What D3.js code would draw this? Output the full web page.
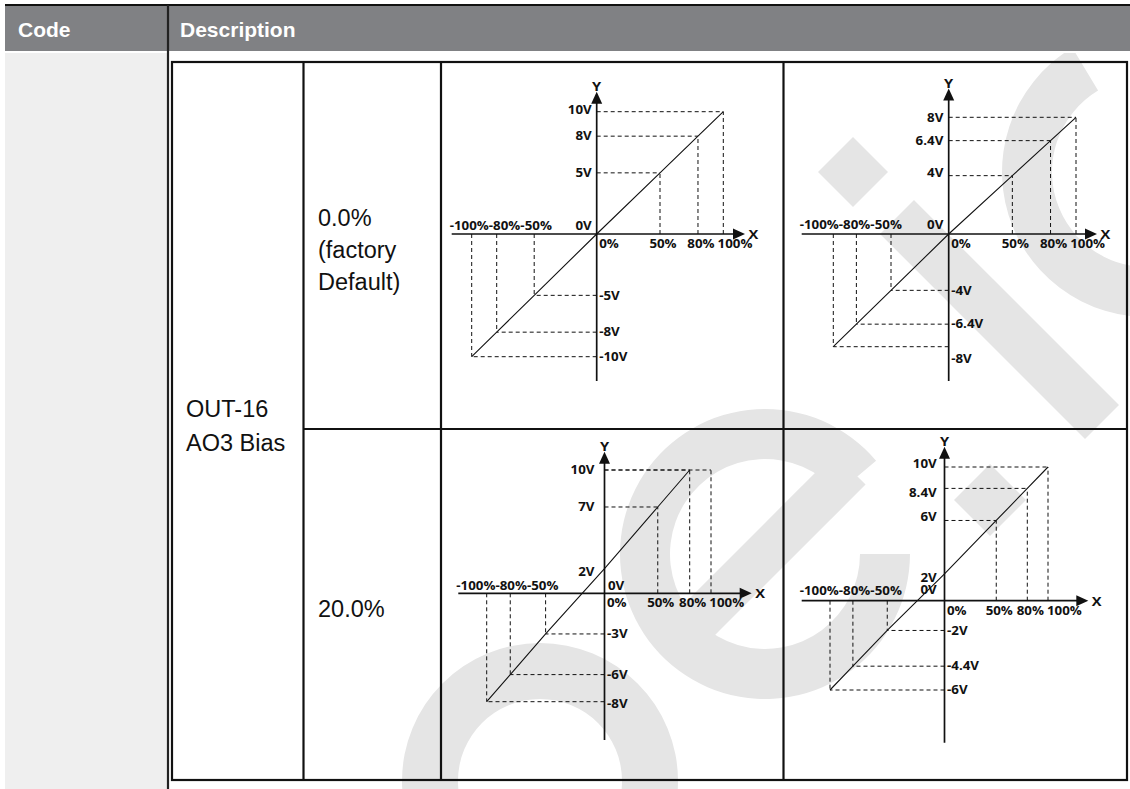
<!DOCTYPE html>
<html>
<head>
<meta charset="utf-8">
<script src="https://cdn.jsdelivr.net/npm/d3@7"></script>
<style>
  html, body { margin: 0; padding: 0; background: #ffffff; }
  svg { display: block; }
</style>
</head>
<body>
<svg id="page" width="1130" height="789"></svg>
<script>
// ---- Table text ----
const headerLabels = ["Code", "Description"];
const paramName = ["OUT-16", "AO3 Bias"];
const biasSettings = [["0.0%", "(factory", "Default)"], ["20.0%"]];

// ---- Input level marked on every X axis (% of full scale) ----
const inputPct = [-100, -80, -50, 0, 50, 80, 100];
const inputPctLabels = ["-100%", "-80%", "-50%", "0%", "50%", "80%", "100%"];

// ---- Output voltage at each input level, one array per graph ----
const outBias0Gain100 = [-10, -8, -5, 0, 5, 8, 10];
const outBias0Gain80 = [-8, -6.4, -4, 0, 4, 6.4, 8];
const outBias20Gain100 = [-8, -6, -3, 2, 7, 10, 10];
const outBias20Gain80 = [-6, -4.4, -2, 2, 6, 8.4, 10];
const outputCeiling = 10;

// ---- Page geometry ----
const W = 1130, H = 789;
const svg = d3.select("#page");

const headerGray = "#808184";
const codeGray = "#efefef";
const markGray = "#e5e5e5";
const ink = "#111111";

// Header band
svg.append("rect").attr("x", 5).attr("y", 5).attr("width", W - 5).attr("height", 46)
  .attr("fill", headerGray);
svg.append("line").attr("x1", 5).attr("x2", W).attr("y1", 5).attr("y2", 5)
  .attr("stroke", ink).attr("stroke-width", 2.2);
// Code column background
svg.append("rect").attr("x", 5).attr("y", 53).attr("width", 162).attr("height", H - 53)
  .attr("fill", codeGray);

// ---- Faint background lettering behind the description column ----
svg.append("clipPath").attr("id", "descClip")
  .append("rect").attr("x", 170).attr("y", 53).attr("width", W - 170).attr("height", H - 53);
const bgMarks = svg.append("g").attr("fill", markGray).attr("clip-path", "url(#descClip)");
const deg = Math.PI / 180;
const ring = (cx, cy, r0, r1, a0, a1) => bgMarks.append("path")
  .attr("transform", `translate(${cx},${cy})`)
  .attr("d", d3.arc().innerRadius(r0).outerRadius(r1).startAngle(a0 * deg).endAngle(a1 * deg)());
const band = (x1, y1, x2, y2, w) => bgMarks.append("line")
  .attr("x1", x1).attr("y1", y1).attr("x2", x2).attr("y2", y2)
  .attr("stroke", markGray).attr("stroke-width", w);
const diamond = (cx, cy, r) => bgMarks.append("path")
  .attr("d", `M${cx - r},${cy} L${cx},${cy - r} L${cx + r},${cy} L${cx},${cy + r} Z`);

ring(540, 781, 82, 138, 0, 360);            // round letter at the bottom
ring(765, 554, 95, 145, 90, 410);           // "e" bowl with its opening
band(680, 639, 850, 469, 44);               // "e" bar
diamond(853, 172, 35);                      // dot of the "i"
band(897, 217, 1102, 422, 48);              // "i" stem
ring(1147, 172, 95, 145, 85, 329);          // open letter at the top right
diamond(990, 500, 36);

// Divider between Code and Description
svg.append("line").attr("x1", 168).attr("x2", 168).attr("y1", 5).attr("y2", H)
  .attr("stroke", "#222").attr("stroke-width", 2.2);

svg.append("text").attr("x", 18).attr("y", 36.5).text(headerLabels[0])
  .attr("font-family", "'Liberation Sans', Arial, sans-serif").attr("font-weight", 700)
  .attr("font-size", 21).attr("fill", "#fff");
svg.append("text").attr("x", 180).attr("y", 36.5).text(headerLabels[1])
  .attr("font-family", "'Liberation Sans', Arial, sans-serif").attr("font-weight", 700)
  .attr("font-size", 21).attr("fill", "#fff");

// Inner parameter table
const tbl = { left: 172, top: 62, right: 1127, bottom: 780, col1: 303.5, col2: 441, col3: 783.5, row: 429 };
const grid = svg.append("g").attr("stroke", ink).attr("stroke-width", 2.2).attr("fill", "none");
grid.append("rect").attr("x", tbl.left).attr("y", tbl.top)
  .attr("width", tbl.right - tbl.left).attr("height", tbl.bottom - tbl.top);
[tbl.col1, tbl.col2, tbl.col3].forEach(x =>
  grid.append("line").attr("x1", x).attr("x2", x).attr("y1", tbl.top).attr("y2", tbl.bottom));
grid.append("line").attr("x1", tbl.col1).attr("x2", tbl.right).attr("y1", tbl.row).attr("y2", tbl.row);

const bodyFont = "'Liberation Sans', Arial, sans-serif";
const bodyText = svg.append("g").attr("font-family", bodyFont).attr("font-size", 23.5).attr("fill", ink);
paramName.forEach((t, i) =>
  bodyText.append("text").attr("x", 186).attr("y", 416.5 + i * 34).text(t));
biasSettings[0].forEach((t, i) =>
  bodyText.append("text").attr("x", 318).attr("y", 225.5 + i * 32.3).text(t));
biasSettings[1].forEach((t, i) =>
  bodyText.append("text").attr("x", 318).attr("y", 617 + i * 32.3).text(t));

// ---- Transfer graphs ----
// Each graph: origin, scale ranges at the extreme values, axis extents and label placement.
const graphs = [
  { values: outBias0Gain100, ox: 596.7, oy: 234, xr: [471.7, 723.3], yr: [356.7, 111.7],
    axL: 451.7, axR: 745, axT: 91.7, axB: 381, posGap: 5, zero: { side: "left", dy: -4 },
    negRunDy: -4, nudge: { "10": -2.5 } },
  { values: outBias0Gain80, ox: 948.7, oy: 234, xr: [833.3, 1076], yr: [346.7, 117.3],
    axL: 801.7, axR: 1097, axT: 88.5, axB: 381, posGap: 5.4, zero: { side: "left", dy: -5.5 },
    negRunDy: -5, nudge: { "4": -2.5, "-8": 11.5 } },
  { values: outBias20Gain100, ox: 604.5, oy: 593.3, xr: [486.7, 711], yr: [701.7, 470],
    axL: 458.3, axR: 751.7, axT: 451.7, axB: 740, posGap: 10, zero: { side: "right", dy: -3.5 },
    negRunDy: -3.5, nudge: { "2": 3, "-8": 2 } },
  { values: outBias20Gain80, ox: 944.5, oy: 600.7, xr: [830, 1048], yr: [690, 467],
    axL: 801.7, axR: 1088.3, axT: 446.7, axB: 742.7, posGap: 7.8, zero: { side: "left", dy: -7 },
    negRunDy: -5.7, nudge: { "2": 3.5, "10": -3, "8.4": 4.5, "6": -3.5 } }
];

const tickFont = "'Open Sans', 'Noto Sans', sans-serif";
const tickSize = 11.8;
const tickStretch = 1.13;   // the tick lettering is set wide

graphs.forEach(g => {
  const vMin = d3.min(g.values), vMax = d3.max(g.values);
  const x = d3.scaleLinear().domain([inputPct[0], 0, inputPct[inputPct.length - 1]])
    .range([g.xr[0], g.ox, g.xr[1]]);
  const y = d3.scaleLinear().domain([vMin, 0, vMax]).range([g.yr[0], g.oy, g.yr[1]]);
  const pts = inputPct.map((p, i) => ({ p, v: g.values[i] }));

  const layer = svg.append("g");

  // Dashed projections from each marked point onto both axes
  const guides = layer.append("g").attr("stroke", ink).attr("stroke-width", 1)
    .attr("stroke-dasharray", "4,3").attr("fill", "none");
  pts.filter(d => d.p !== 0).forEach(d => {
    guides.append("line").attr("x1", x(d.p)).attr("x2", x(d.p))
      .attr("y1", y(0)).attr("y2", y(d.v));
    guides.append("line").attr("x1", x(0)).attr("x2", x(d.p))
      .attr("y1", y(d.v)).attr("y2", y(d.v));
  });

  // Transfer line, up to the point where the output reaches its ceiling
  const stop = pts.findIndex(d => d.v >= outputCeiling);
  const linePts = stop < 0 ? pts : pts.slice(0, stop + 1);
  layer.append("path").datum(linePts)
    .attr("d", d3.line().x(d => x(d.p)).y(d => y(d.v)))
    .attr("fill", "none").attr("stroke", ink).attr("stroke-width", 1.1);

  // Axes with arrow heads
  const axes = layer.append("g").attr("stroke", ink).attr("stroke-width", 1.7);
  axes.append("line").attr("x1", g.axL).attr("x2", g.axR - 10).attr("y1", g.oy).attr("y2", g.oy);
  axes.append("line").attr("x1", g.ox).attr("x2", g.ox).attr("y1", g.axT + 10).attr("y2", g.axB);
  layer.append("path").attr("fill", ink)
    .attr("d", `M${g.axR},${g.oy} L${g.axR - 12},${g.oy - 5.5} L${g.axR - 12},${g.oy + 5.5} Z`);
  layer.append("path").attr("fill", ink)
    .attr("d", `M${g.ox},${g.axT} L${g.ox - 5.5},${g.axT + 12} L${g.ox + 5.5},${g.axT + 12} Z`);

  const txt = layer.append("g").attr("font-family", tickFont).attr("font-weight", 700)
    .attr("font-size", tickSize).attr("fill", ink);
  const label = (tx, ty, s, anchor) => txt.append("text")
    .attr("transform", `translate(${tx},${ty}) scale(${tickStretch},1)`)
    .attr("text-anchor", anchor || "start").text(s);

  label(g.axR + 3.5, g.oy + 5, "X").attr("font-size", 13);
  label(g.ox, g.axT - 1, "Y", "middle").attr("font-size", 13);

  // X labels: negative levels as one run above the axis, the rest below it
  const negLabels = inputPctLabels.filter((_, i) => inputPct[i] < 0).join("");
  label(g.axL - 2, g.oy + g.negRunDy, negLabels);
  let prevRight = -Infinity;
  inputPct.forEach((p, i) => {
    if (p < 0) return;
    if (p === 0) {
      const t = label(g.ox + 2.5, g.oy + 14, inputPctLabels[i]);
      prevRight = g.ox + 2.5 + t.node().getComputedTextLength() * tickStretch;
      return;
    }
    const dx = i === inputPct.length - 1 ? 9 : 3;
    let cx = x(p) + dx;
    const t = label(cx, g.oy + 14, inputPctLabels[i], "middle");
    const w = t.node().getComputedTextLength() * tickStretch;
    // keep neighbouring labels apart where the ticks sit close together
    if (cx - w / 2 < prevRight + 3) {
      cx = prevRight + 3 + w / 2;
      t.attr("transform", `translate(${cx},${g.oy + 14}) scale(${tickStretch},1)`);
    }
    prevRight = cx + w / 2;
  });

  // Y labels: every distinct output level plus 0V
  const levels = Array.from(new Set(g.values.concat([0])));
  levels.forEach(v => {
    const s = v + "V";
    if (v === 0) {
      const left = g.zero.side === "left";
      label(left ? g.ox - g.posGap : g.ox + 3.5, g.oy + g.zero.dy, s, left ? "end" : "start");
      return;
    }
    const yy = y(v) + (g.nudge[String(v)] || 0) + 4.3;
    if (v > 0) label(g.ox - g.posGap, yy, s, "end");
    else label(g.ox + 2.5, yy, s);
  });
});
</script>
</body>
</html>
